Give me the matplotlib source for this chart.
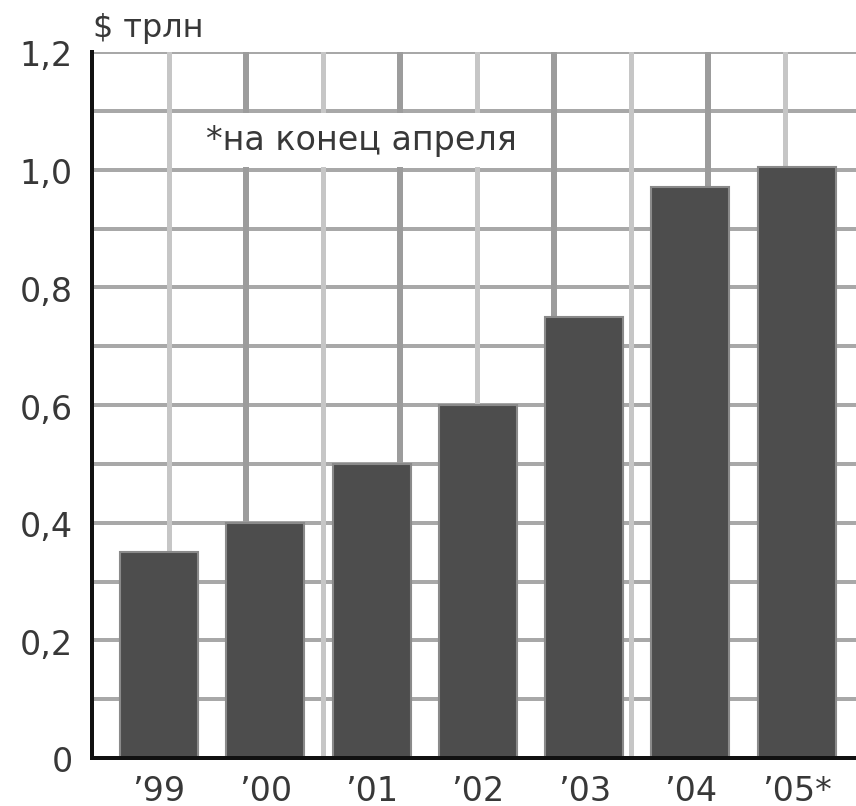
import numpy as np
import matplotlib
matplotlib.use("Agg")
import matplotlib.pyplot as plt
from matplotlib.patches import Rectangle
from matplotlib.transforms import ScaledTranslation

plt.rcParams["font.family"] = ["DejaVu Sans"]

# data
years = ["’99", "’00", "’01", "’02", "’03", "’04", "’05*"]
values = [0.35, 0.40, 0.50, 0.60, 0.75, 0.97, 1.005]
y_ticks = [0, 0.2, 0.4, 0.6, 0.8, 1.0, 1.2]
y_tick_labels = ["0", "0,2", "0,4", "0,6", "0,8", "1,0", "1,2"]
unit_label = "$ трлн"
note = "*на конец апреля"

W, H = 856, 806
fig = plt.figure(figsize=(W / 100, H / 100), dpi=100)
ax = fig.add_axes([92 / W, 48 / H, 764 / W, 706 / H])

x = np.arange(len(years))
xmin, xmax = -0.630, 6.557
ax.set_xlim(xmin, xmax)
ax.set_ylim(0, 1.2)

# background grid, independent of bar positions
px = 0.72  # points per pixel
for k in range(1, 13):
    ax.axhline(k * 0.1, color="#a8a8a8", lw=4 * px, zorder=1)
step = (xmax - xmin) * 77 / 764
gx = [xmin + step * k for k in range(1, 10)]
for i, g in enumerate(gx):
    if i % 2 == 1:
        ax.axvline(g, color="#9c9c9c", lw=6 * px, zorder=1.2)
    else:
        ax.axvline(g, color="#c6c6c6", lw=5 * px, zorder=1.1)

# white box for the note
dx = step * 0.04
ax.add_patch(Rectangle((gx[0] + dx, 1.004), gx[5] - gx[0] - 2 * dx, 0.092,
                       facecolor="white", edgecolor="none", zorder=2.5))
ax.text(gx[0] + (207 - 170) / 764 * (xmax - xmin), 1.05, note,
        fontsize=24, color="#383838", va="center", ha="left", zorder=4)

ax.bar(x, values, width=0.734, color="#4d4d4d", edgecolor="#8a8a8a",
       linewidth=1.5, zorder=3)

for s in ["top", "right"]:
    ax.spines[s].set_visible(False)
for s in ["left", "bottom"]:
    ax.spines[s].set_color("#111111")
    ax.spines[s].set_linewidth(4 * px)
    ax.spines[s].set_zorder(5)

ax.set_yticks(y_ticks)
ax.set_yticklabels(y_tick_labels)
ax.set_xticks(x)
ax.set_xticklabels(years)
ax.tick_params(axis="y", length=0, pad=14, labelsize=24, labelcolor="#383838")
ax.tick_params(axis="x", length=0, pad=12, labelsize=24, labelcolor="#383838")

# y labels sit a little below their grid lines in the source
off = ScaledTranslation(0, -5 / 100, fig.dpi_scale_trans)
for lab in ax.get_yticklabels():
    lab.set_verticalalignment("center")
    lab.set_transform(lab.get_transform() + off)

fig.text(93 / W, 1 - 37 / H, unit_label, fontsize=23, color="#383838",
         ha="left", va="baseline")

fig.savefig("out.png", dpi=100)
